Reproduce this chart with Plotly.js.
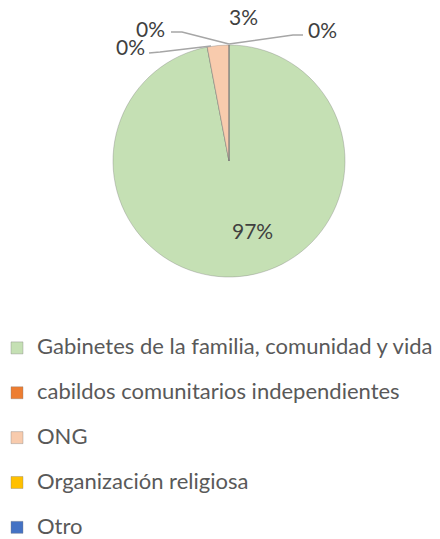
<!DOCTYPE html>
<html>
<head>
<meta charset="utf-8">
<script src="https://cdn.plot.ly/plotly-3.0.1.min.js"></script>
<style>html,body{margin:0;padding:0;background:#fff;}#chart{width:440px;height:539px;}</style>
</head>
<body>
<div id="chart"></div>
<script>
// ---- data ----
const categories = [
  "Gabinetes de la familia, comunidad y vida",
  "cabildos comunitarios independientes",
  "ONG",
  "Organización religiosa",
  "Otro"
];
const values = [97, 0, 3, 0, 0];
const colors = ["#C5E0B4", "#ED7D31", "#F8CBAD", "#FFC000", "#4472C4"];

// ---- layout helpers (pixel -> paper) ----
const W = 440, H = 539;
const px = x => x / W;
const py = y => 1 - y / H;

const total = values.reduce((a, b) => a + b, 0);
const pct = values.map(v => Math.round(v / total * 100) + "%");

const legendLabels = categories.map(c => '\u00a0<br><span style="font-size:22px">' + c + '</span>');

// pie geometry
const cx = 229, cy = 161, r = 116;

const trace = {
  type: "pie",
  labels: legendLabels,
  values: values,
  sort: false,
  direction: "clockwise",
  rotation: 0,
  textinfo: "none",
  hoverinfo: "none",
  marker: { colors: colors, line: { color: "rgba(120,120,120,0.35)", width: 1 } },
  domain: { x: [px(cx - r), px(cx + r)], y: [py(cy + r), py(cy - r)] },
  showlegend: true
};

// label placements (index into data -> pixel center)
const labelPos = [
  { i: 0, x: 253, y: 230 },
  { i: 1, x: 130, y: 46 },
  { i: 2, x: 243, y: 17 },
  { i: 3, x: 150, y: 28 },
  { i: 4, x: 322, y: 30 }
];
const annotations = labelPos.map(p => ({
  xref: "paper", yref: "paper",
  x: px(p.x), y: py(p.y),
  xanchor: "center", yanchor: "middle",
  text: pct[p.i], showarrow: false,
  font: { family: "Lato, sans-serif", size: 21, color: "#404040" }
}));

// leader lines
function pathPx(pts) {
  return pts.map((p, k) => (k ? "L" : "M") + px(p[0]) + "," + py(p[1])).join(" ");
}
const leaderStyle = { color: "#A6A6A6", width: 1.5 };
const shapes = [
  { type: "path", xref: "paper", yref: "paper", path: pathPx([[149, 53], [160, 52], [211, 46]]), line: leaderStyle },
  { type: "path", xref: "paper", yref: "paper", path: pathPx([[171, 32], [182, 32], [229, 44]]), line: leaderStyle },
  { type: "path", xref: "paper", yref: "paper", path: pathPx([[229, 44], [293, 35], [303, 35]]), line: leaderStyle }
];

const layout = {
  width: W, height: H,
  margin: { l: 0, r: 0, t: 0, b: 0, autoexpand: false },
  paper_bgcolor: "#ffffff",
  showlegend: true,
  legend: {
    x: px(-3), y: py(310), xanchor: "left", yanchor: "top",
    orientation: "v",
    valign: "bottom",
    font: { family: "Lato, sans-serif", size: 16.1, color: "#595959" },
    bgcolor: "rgba(0,0,0,0)"
  },
  annotations: annotations,
  shapes: shapes
};

Plotly.newPlot("chart", [trace], layout, { displayModeBar: false, staticPlot: true });
</script>
</body>
</html>
